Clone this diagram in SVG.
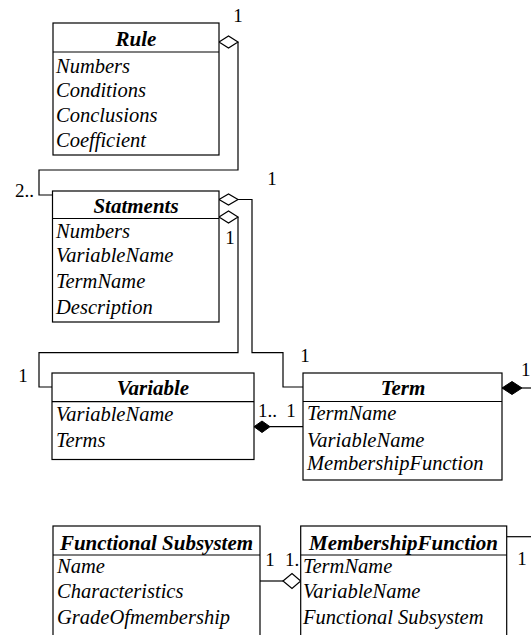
<svg xmlns="http://www.w3.org/2000/svg" width="531" height="635" viewBox="0 0 531 635">
<style>
.box{fill:#fff;stroke:#000;stroke-width:1.2}
.sep{stroke:#000;stroke-width:1.2}
.ttl{font-family:"Liberation Serif","Times New Roman",serif;font-size:21px;font-weight:bold;font-style:italic;text-anchor:middle;fill:#000}
.att{font-family:"Liberation Serif","Times New Roman",serif;font-size:20.5px;font-style:italic;fill:#000}
.lbl{font-family:"Liberation Serif","Times New Roman",serif;font-size:19px;fill:#000}
.ln{fill:none;stroke:#000;stroke-width:1.2}
.od{fill:#fff;stroke:#000;stroke-width:1.2}
.fd{fill:#000;stroke:#000;stroke-width:1}
</style>
<rect width="531" height="635" fill="#fff"/>
<g id="connectors">
<polyline class="ln" points="238,42 238,170 39,170 39,195 53,195"/>
<polygon class="od" points="219,42 228.5,36 238,42 228.5,48"/>
<polyline class="ln" points="238,199.5 252,199.5 252,352.7 283,352.7 283,387 303,387"/>
<polygon class="od" points="219,199.5 228.5,194 238,199.5 228.5,205"/>
<polyline class="ln" points="238,217 238,352.7 39,352.7 39,387 52,387"/>
<polygon class="od" points="219,217 228.5,211 238,217 228.5,223"/>
<line class="ln" x1="270" y1="426.7" x2="303" y2="426.7"/>
<polygon class="fd" points="254,426.7 262,421 270,426.7 262,432.5"/>
<line class="ln" x1="522" y1="388" x2="531" y2="388"/>
<polygon class="fd" points="502,388 512,381.5 522,388 512,394.5"/>
<line class="ln" x1="260" y1="581" x2="283" y2="581"/>
<polygon class="od" points="283,581 292,573.5 300.7,581 292,588.5"/>
<line class="ln" x1="507" y1="536.7" x2="531" y2="536.7"/>
<text class="lbl" x="238" y="22" text-anchor="middle">1</text>
<text class="lbl" x="15" y="197">2..</text>
<text class="lbl" x="272" y="185" text-anchor="middle">1</text>
<text class="lbl" x="230" y="244" text-anchor="middle">1</text>
<text class="lbl" x="23" y="382" text-anchor="middle">1</text>
<text class="lbl" x="305" y="362" text-anchor="middle">1</text>
<text class="lbl" x="258" y="417">1..</text>
<text class="lbl" x="291" y="417" text-anchor="middle">1</text>
<text class="lbl" x="521" y="376">1</text>
<text class="lbl" x="270" y="566" text-anchor="middle">1</text>
<text class="lbl" x="285" y="566">1.</text>
<text class="lbl" x="522" y="565" text-anchor="middle">1</text>
</g>
<g id="rule">
<rect class="box" x="53" y="23" width="166" height="132"/>
<line class="sep" x1="53" y1="52" x2="219" y2="52"/>
<text class="ttl" x="136" y="46">Rule</text>
<text class="att" x="56" y="73">Numbers</text>
<text class="att" x="56" y="97">Conditions</text>
<text class="att" x="56" y="122">Conclusions</text>
<text class="att" x="56" y="147">Coefficient</text>
</g>
<g id="statments">
<rect class="box" x="52.5" y="191" width="166.5" height="131"/>
<line class="sep" x1="52.5" y1="218.5" x2="219" y2="218.5"/>
<text class="ttl" x="136" y="213">Statments</text>
<text class="att" x="56" y="238">Numbers</text>
<text class="att" x="56" y="262">VariableName</text>
<text class="att" x="56" y="288">TermName</text>
<text class="att" x="56" y="314">Description</text>
</g>
<g id="variable">
<rect class="box" x="52" y="373" width="202" height="86.5"/>
<line class="sep" x1="52" y1="401.7" x2="254" y2="401.7"/>
<text class="ttl" x="153" y="395">Variable</text>
<text class="att" x="56" y="421">VariableName</text>
<text class="att" x="56" y="447">Terms</text>
</g>
<g id="term">
<rect class="box" x="303" y="373" width="199" height="107"/>
<line class="sep" x1="303" y1="401.5" x2="502" y2="401.5"/>
<text class="ttl" x="403" y="395">Term</text>
<text class="att" x="307" y="420">TermName</text>
<text class="att" x="307" y="447">VariableName</text>
<text class="att" x="307" y="470">MembershipFunction</text>
</g>
<g id="functional-subsystem">
<rect class="box" x="53" y="526" width="207" height="120"/>
<line class="sep" x1="53" y1="555" x2="260" y2="555"/>
<text class="ttl" x="156.5" y="550">Functional Subsystem</text>
<text class="att" x="57" y="573">Name</text>
<text class="att" x="57" y="598">Characteristics</text>
<text class="att" x="57" y="624">GradeOfmembership</text>
</g>
<g id="membership-function">
<rect class="box" x="300.7" y="526" width="206" height="120"/>
<line class="sep" x1="300.7" y1="555" x2="506.7" y2="555"/>
<text class="ttl" x="403.5" y="550">MembershipFunction</text>
<text class="att" x="303" y="573">TermName</text>
<text class="att" x="303" y="598">VariableName</text>
<text class="att" x="303" y="624">Functional Subsystem</text>
</g>
</svg>
